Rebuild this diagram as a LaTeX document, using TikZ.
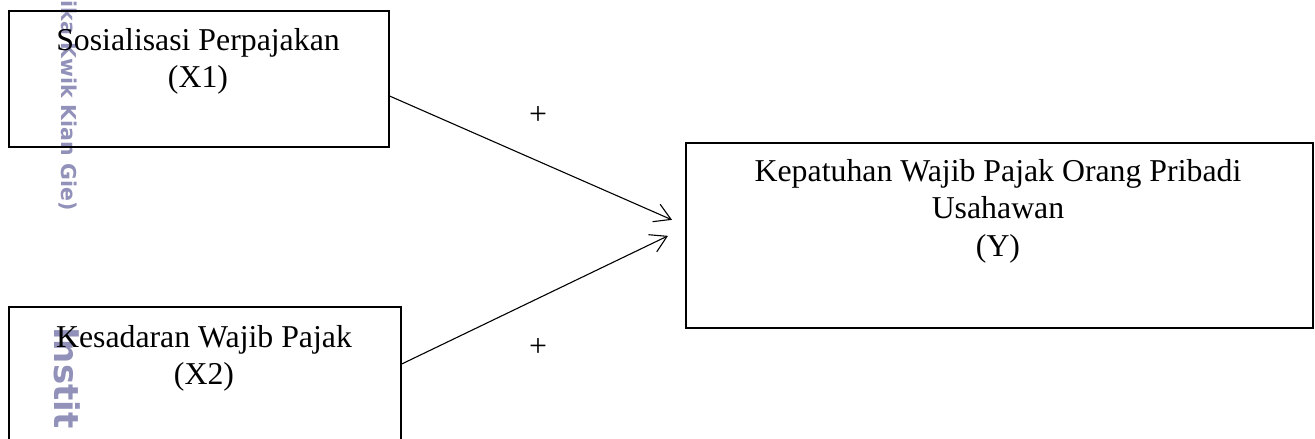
\documentclass[tikz,border=0pt]{standalone}
\usepackage{fontspec}
\setmainfont{Liberation Serif}
\newfontfamily\wmfont{DejaVu Sans}
\usetikzlibrary{arrows.meta,calc}
\definecolor{wmcol}{RGB}{145,145,185}
\begin{document}
\begin{tikzpicture}[x=1pt,y=-1pt,
  box/.style={draw=black, line width=1.7pt, inner sep=0pt},
  lbl/.style={font=\fontsize{31.8}{37.5}\selectfont, align=center, inner sep=0pt, anchor=north},
  link/.style={line width=1.1pt, -{Straight Barb[length=16pt,width=19pt,line width=1.1pt]}},
  sign/.style={font=\fontsize{31.8}{37.5}\selectfont, inner sep=0pt, anchor=base},
  wm/.style={text=wmcol, font=\wmfont\bfseries, rotate=-90, inner sep=0pt, anchor=west}
]
\useasboundingbox (0,0) rectangle (1315,439);
\clip (0,0) rectangle (1315,439);
\fill[white] (0,0) rectangle (1315,439);
% watermark
\node[wm, font=\wmfont\bfseries\fontsize{20.5}{22}\selectfont] (w1) at (68,0.5) {ika Kwik Kian Gie)};
\node[wm, font=\wmfont\bfseries\fontsize{34}{36}\selectfont] (w2) at (67,327) {Instit};
% boxes
\node[box, minimum width=380pt, minimum height=136pt, anchor=north west] (x1) at (8,10) {};
\node[box, minimum width=392pt, minimum height=200pt, anchor=north west] (x2) at (8,306) {};
\node[box, minimum width=627pt, minimum height=185pt, anchor=north west] (y) at (685,142) {};
% texts
\node[lbl] (x1t) at (198,28) {Sosialisasi Perpajakan\\(X1)};
\node[lbl] (x2t) at (204,325) {Kesadaran Wajib Pajak\\(X2)};
\node[lbl] (yt) at (998,159) {Kepatuhan Wajib Pajak Orang Pribadi\\Usahawan\\(Y)};
% connectors
\coordinate (e1) at ($(y.west)+(-13,-15.5)$);
\coordinate (e2) at ($(y.west)+(-17,0.5)$);
\draw[link] ($(x1.north east)!0.625!(x1.south east)$) -- (e1);
\draw[link] ($(x2.north east)+(0,58)$) -- (e2);
% signs
\node[sign] (p1) at (538,124) {+};
\node[sign] (p2) at (538,356) {+};
\end{tikzpicture}
\end{document}
